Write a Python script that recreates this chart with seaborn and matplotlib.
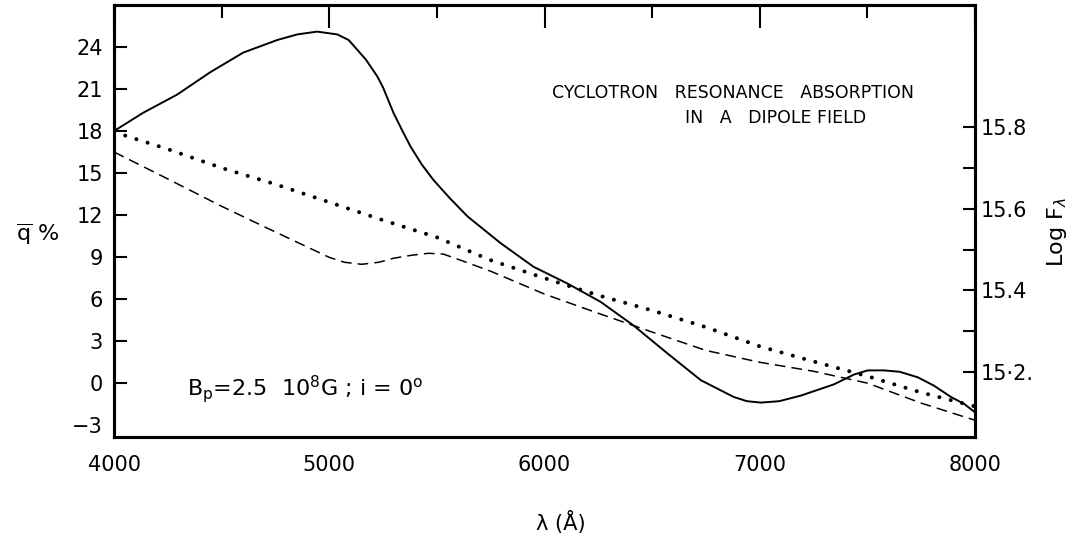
import matplotlib.pyplot as plt
import seaborn as sns
from matplotlib.ticker import MultipleLocator, FixedLocator

# solid curve: mean polarisation q (%) vs wavelength (left axis)
wl_q = [4000, 4135, 4293, 4447, 4600, 4758, 4851, 4944, 5037, 5090, 5130, 5170,
        5223, 5250, 5298, 5340, 5377, 5430, 5484, 5560, 5642, 5795, 5949, 6107,
        6260, 6414, 6572, 6726, 6879, 6940, 7005, 7090, 7191, 7344, 7437, 7502,
        7577, 7650, 7735, 7810, 7888, 7950, 8000]
q_pct = [18.0, 19.3, 20.6, 22.2, 23.6, 24.5, 24.9, 25.1, 24.9, 24.5, 23.8, 23.1,
         21.9, 21.1, 19.3, 18.0, 16.9, 15.6, 14.5, 13.2, 11.9, 10.0, 8.3, 7.1,
         5.8, 4.1, 2.1, 0.2, -1.0, -1.3, -1.4, -1.3, -0.9, -0.1, 0.6, 0.9,
         0.9, 0.8, 0.4, -0.2, -1.0, -1.5, -2.1]

# dotted curve: log F_lambda (right axis)
wl_dot = [4000, 4250, 4500, 4750, 5000, 5250, 5500, 5750, 6000, 6250, 6500,
          6750, 7000, 7250, 7500, 7750, 8000]
logf_dot = [15.788, 15.746, 15.700, 15.660, 15.616, 15.572, 15.530, 15.474,
            15.430, 15.388, 15.351, 15.310, 15.263, 15.226, 15.190, 15.150, 15.116]

# dashed curve: log F_lambda with absorption (right axis)
wl_dash = [4000, 4250, 4500, 4750, 5000, 5070, 5150, 5230, 5300, 5380, 5460,
           5530, 5610, 5750, 6000, 6250, 6500, 6750, 7000, 7250, 7500, 7750, 8000]
logf_dash = [15.739, 15.673, 15.606, 15.543, 15.481, 15.469, 15.464, 15.469,
             15.479, 15.486, 15.491, 15.489, 15.474, 15.447, 15.391, 15.344,
             15.298, 15.253, 15.224, 15.202, 15.173, 15.124, 15.082]

x_ticks = [4000, 5000, 6000, 7000, 8000]
q_ticks = [-3, 0, 3, 6, 9, 12, 15, 18, 21, 24]
f_ticks = [15.2, 15.4, 15.6, 15.8]
f_minor = [15.3, 15.5, 15.7]
f_tick_labels = ["15·2.", "15.4", "15.6", "15.8"]

sns.set_theme(style="white", rc={"axes.edgecolor": "black",
                                 "xtick.color": "black", "ytick.color": "black",
                                 "text.color": "black", "axes.labelcolor": "black"})
plt.rcParams["font.family"] = ["DejaVu Sans"]
plt.rcParams["mathtext.fontset"] = "dejavusans"

fig = plt.figure(figsize=(10.78, 5.4), dpi=100)
ax = fig.add_axes([0.1058, 0.1907, 0.7987, 0.8])
ax2 = ax.twinx()

sns.lineplot(x=wl_q, y=q_pct, ax=ax, color="black", lw=1.4)
sns.lineplot(x=wl_dot, y=logf_dot, ax=ax2, color="black", lw=2.9,
             linestyle=(0, (0.01, 2.9)), dash_capstyle="round")
sns.lineplot(x=wl_dash, y=logf_dash, ax=ax2, color="black", lw=1.1,
             linestyle=(0, (7, 4)))

ax.set_xlim(4000, 8000)
ax.set_ylim(-3.86, 27.0)
ax2.set_ylim(15.041, 16.099)

ax.set_xticks(x_ticks)
ax.xaxis.set_minor_locator(MultipleLocator(500))
ax.set_yticks(q_ticks)
ax2.set_yticks(f_ticks)
ax2.set_yticklabels(f_tick_labels)
ax2.yaxis.set_minor_locator(FixedLocator(f_minor))

ax.tick_params(axis="x", which="major", direction="in", length=16.5, width=1.5,
               top=True, labelsize=15, pad=13)
ax.tick_params(axis="x", which="minor", direction="in", length=9.4, width=1.5, top=True)
ax.tick_params(axis="y", which="major", direction="in", length=9.4, width=1.5,
               labelsize=15, pad=8, right=False)
ax2.tick_params(axis="y", which="both", direction="in", length=8.6, width=1.5,
                labelsize=15, pad=4)
# no tick mark at -3 in the original, only the label
ax.yaxis.get_major_ticks()[0].tick1line.set_visible(False)

for a in (ax, ax2):
    for s in a.spines.values():
        s.set_linewidth(2.2)
        s.set_color("black")

ax.set_xlabel("λ (Å)", fontsize=15, va="center")
ax.xaxis.set_label_coords(0.519, -0.199)
ax.set_ylabel(r"$\overline{\mathregular{q}}$ %", fontsize=16, rotation=0,
              ha="center", va="center")
ax.yaxis.set_label_coords(-0.089, 0.468)
ax2.set_ylabel(r"Log F$_\lambda$", fontsize=16, rotation=90, va="center")
ax2.yaxis.set_label_coords(1.095, 0.475)

ax.text(0.509, 0.785, "CYCLOTRON   RESONANCE   ABSORPTION", transform=ax.transAxes,
        fontsize=12.5, va="baseline")
ax.text(0.663, 0.727, "IN   A   DIPOLE FIELD", transform=ax.transAxes,
        fontsize=12.5, va="baseline")
ax.text(0.0848, 0.097, r"B$_\mathregular{p}$=2.5  10$^\mathregular{8}$G ; i = 0$^\mathregular{o}$",
        transform=ax.transAxes, fontsize=16, va="baseline")

fig.savefig("out.png", dpi=100)
